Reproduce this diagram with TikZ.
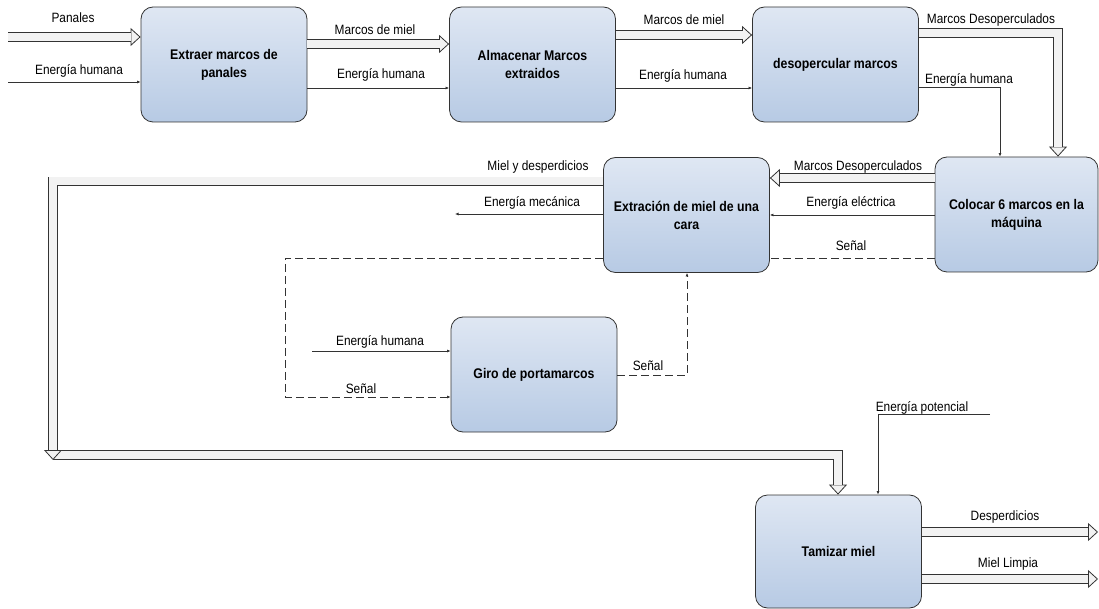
\documentclass[tikz,border=0pt]{standalone}
\usepackage{fontspec}
\setmainfont{Liberation Sans}[FakeStretch=0.88]
\usetikzlibrary{arrows.meta}
\usetikzlibrary{calc}
\usetikzlibrary{positioning}

\definecolor{cajaarriba}{RGB}{223,231,243}
\definecolor{cajaabajo}{RGB}{183,202,228}
\definecolor{relleno}{RGB}{242,242,242}
\definecolor{linea}{RGB}{51,51,51}

\tikzset{
  proceso/.style={draw=linea, line width=0.8pt, rounded corners=12pt,
    top color=cajaarriba, bottom color=cajaabajo,
    minimum width=166pt, minimum height=115pt, align=center,
    font=\fontsize{14}{18}\selectfont\bfseries},
  flujo/.style={draw=linea, line width=0.7pt, -{Latex[length=3.5pt,width=3pt]}},
  senal/.style={flujo, dash pattern=on 8pt off 4pt},
  masa/.style={draw=linea, line width=0.8pt, double=relleno, double distance=8pt, shorten >=9.6pt},
  punta/.style={draw=linea, line width=0.8pt, -{Triangle[length=10pt,width=18pt,fill=relleno]}},
  etiqueta/.style={anchor=base, inner sep=0pt, font=\fontsize{13.5}{16}\selectfont}
}

\begin{document}
\begin{tikzpicture}[x=1pt,y=-1pt]
      \useasboundingbox (0,0) rectangle (1099,609);
      % Cajas
      \node[proceso] (extraer) at (224,64.5) {Extraer marcos de\\panales};
      \node[proceso] (almacenar) at (532.5,64.5) {Almacenar Marcos\\extraidos};
      \node[proceso] (desopercular) at (835.5,64.5) {desopercular marcos};
      \node[proceso, minimum width=163pt] (colocar) at (1016.5,214.5) {Colocar 6 marcos en la\\máquina};
      \node[proceso] (extraccion) at (686.5,215) {Extración de miel de una\\cara};
      \node[proceso] (giro) at (534,374.5) {Giro de portamarcos};
      \node[proceso, minimum height=113pt] (tamizar) at (838.5,551.5) {Tamizar miel};
      % Entradas
      \coordinate (panales) at (8,37);
      \coordinate (humano1) at (8,82);
      \draw[punta] ($(extraer.west |- 0,37)+(-10,0)$) -- (extraer.west |- 0,37);
      \draw[masa] (panales) -- (extraer.west |- 0,37);
      \node[etiqueta] (tpanales) at (73,23) {Panales};
      \draw[flujo] (humano1) -- (extraer.west |- 0,82);
      \node[etiqueta] (thumano1) at (79,75) {Energía humana};
      % extraer -> almacenar
      \draw[punta] ($(almacenar.west |- 0,44)+(-10,0)$) -- (almacenar.west |- 0,44);
      \draw[masa] (extraer.east |- 0,44) -- (almacenar.west |- 0,44);
      \node[etiqueta] (tmiel1) at (375,35) {Marcos de miel};
      \draw[flujo] (extraer.east |- 0,88) -- (almacenar.west |- 0,88);
      \node[etiqueta] (thumano2) at (381,79) {Energía humana};
      % almacenar -> desopercular
      \draw[punta] ($(desopercular.west |- 0,35)+(-10,0)$) -- (desopercular.west |- 0,35);
      \draw[masa] (almacenar.east |- 0,35) -- (desopercular.west |- 0,35);
      \node[etiqueta] (tmiel2) at (684,25) {Marcos de miel};
      \draw[flujo] (almacenar.east |- 0,88) -- (desopercular.west |- 0,88);
      \node[etiqueta] (thumano3) at (683,80) {Energía humana};
      % desopercular -> colocar
      \draw[punta] ($(colocar.north -| 1058,0)+(0,-10)$) -- (colocar.north -| 1058,0);
      \draw[masa] (desopercular.east |- 0,33) -| (colocar.north -| 1058,0);
      \node[etiqueta] (tdesop1) at (991,24) {Marcos Desoperculados};
      \draw[flujo] (desopercular.east |- 0,87) -| (colocar.north -| 1000,0);
      \node[etiqueta] (thumano4) at (969,84) {Energía humana};
      % colocar -> extraccion
      \draw[punta] ($(extraccion.east |- 0,178)+(10,0)$) -- (extraccion.east |- 0,178);
      \draw[masa] (colocar.west |- 0,178) -- (extraccion.east |- 0,178);
      \node[etiqueta] (tdesop2) at (858,171) {Marcos Desoperculados};
      \draw[flujo] (colocar.west |- 0,215) -- (extraccion.east |- 0,215);
      \node[etiqueta] (telectrica) at (851,207) {Energía eléctrica};
      \draw[senal, -] (colocar.west |- 0,258) -- (extraccion.east |- 0,258);
      \node[etiqueta] (tsenal1) at (851,251) {Señal};
      % extraccion <-> giro
      \coordinate (esquina) at (285,258);
      \draw[senal] (extraccion.west |- 0,258) -- (esquina) |- (giro.west |- 0,397);
      \node[etiqueta] (tsenal2) at (361,393) {Señal};
      \coordinate (humano5) at (312,351);
      \draw[flujo] (humano5) -- (giro.west |- 0,351);
      \node[etiqueta] (thumano5) at (380,345) {Energía humana};
      \draw[senal] (giro.east |- 0,375) -| (extraccion.south -| 687,0);
      \node[etiqueta] (tsenal3) at (648,370) {Señal};
      % salidas de extraccion
      \coordinate (mecanica) at (455,214);
      \draw[flujo] (extraccion.west |- 0,214) -- (mecanica);
      \node[etiqueta] (tmecanica) at (532,207) {Energía mecánica};
      \coordinate (bajada) at (53,460);
      \coordinate (vuelta) at (53,455);
      \draw[punta] ($(tamizar.north -| 838,0)+(0,-10)$) -- (tamizar.north -| 838,0);
      \draw[masa] (vuelta) -| (tamizar.north -| 838,0);
      \draw[punta] ($(bajada)+(0,-10)$) -- (bajada);
      \draw[masa] (extraccion.west |- 0,181.5) -| (bajada);
      \node[etiqueta] (tdesperdicio1) at (538,171) {Miel y desperdicios};
      % entrada de tamizar
      \coordinate (potencial) at (990,414);
      \draw[flujo] (potencial) -| (tamizar.north -| 878,0);
      \node[etiqueta] (tpotencial) at (922,411) {Energía potencial};
      % salidas de tamizar
      \coordinate (desperdicios) at (1098,532);
      \coordinate (limpia) at (1098,579);
      \draw[punta] ($(desperdicios)+(-10,0)$) -- (desperdicios);
      \draw[masa] (tamizar.east |- 0,532) -- (desperdicios);
      \node[etiqueta] (tdesperdicio2) at (1005,520) {Desperdicios};
      \draw[punta] ($(limpia)+(-10,0)$) -- (limpia);
      \draw[masa] (tamizar.east |- 0,579) -- (limpia);
      \node[etiqueta] (tlimpia) at (1008,567) {Miel Limpia};
\end{tikzpicture}
\end{document}
